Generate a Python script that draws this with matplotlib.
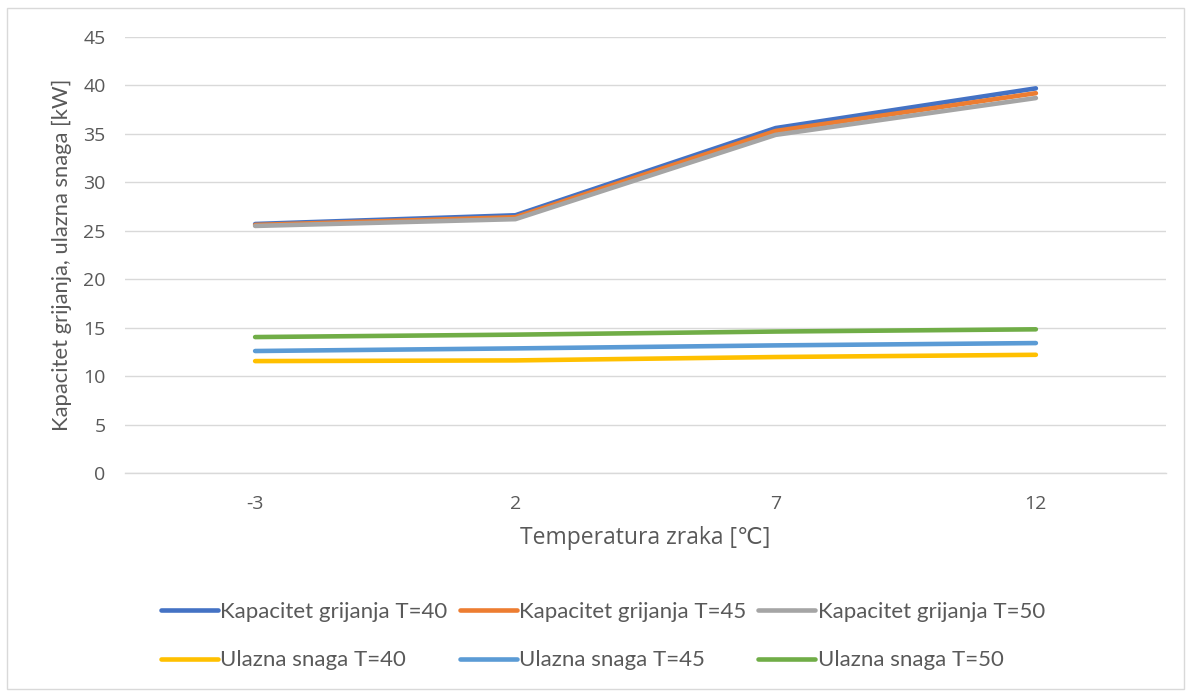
import matplotlib
matplotlib.use("Agg")
import matplotlib.pyplot as plt
from matplotlib.patches import Rectangle

plt.rcParams['font.family'] = ['Lato', 'DejaVu Sans']
SEGOE = ['Open Sans', 'DejaVu Sans']

categories = ["-3", "2", "7", "12"]
kap_40 = [25.7, 26.6, 35.6, 39.7]
kap_45 = [25.6, 26.4, 35.3, 39.2]
kap_50 = [25.5, 26.2, 34.9, 38.7]
ul_40 = [11.55, 11.62, 11.97, 12.2]
ul_45 = [12.59, 12.86, 13.17, 13.41]
ul_50 = [14.03, 14.28, 14.6, 14.83]

series = [
    ("Kapacitet grijanja T=40", kap_40, "#4472C4"),
    ("Kapacitet grijanja T=45", kap_45, "#ED7D31"),
    ("Kapacitet grijanja T=50", kap_50, "#A5A5A5"),
    ("Ulazna snaga T=40", ul_40, "#FFC000"),
    ("Ulazna snaga T=45", ul_45, "#5B9BD5"),
    ("Ulazna snaga T=50", ul_50, "#70AD47"),
]

W, H = 1191, 691
fig = plt.figure(figsize=(W / 100, H / 100), dpi=100)
ax = fig.add_axes([125 / W, 1 - 473 / H, (1166 - 125) / W, (473 - 37) / H])

xs = [i + 0.5 for i in range(len(categories))]
handles = []
for name, vals, col in series:
    h, = ax.plot(xs, vals, color=col, lw=3.3, solid_capstyle='round',
                 solid_joinstyle='round', label=name)
    handles.append(h)

ax.set_xlim(0, 4)
ax.set_ylim(0, 45)
ax.set_yticks(range(0, 46, 5))
ax.set_xticks(xs)
ax.set_xticklabels(categories)
ax.grid(axis='y', color='#D9D9D9', lw=1)
ax.set_axisbelow(True)
for s in ['top', 'right', 'left']:
    ax.spines[s].set_visible(False)
ax.spines['bottom'].set_color('#D9D9D9')
ax.spines['bottom'].set_linewidth(1)
ax.tick_params(axis='both', length=0, labelsize=14, labelcolor='#595959')
ax.tick_params(axis='y', pad=14)
ax.tick_params(axis='x', pad=16)
for lab in ax.get_xticklabels() + ax.get_yticklabels():
    lab.set_family(SEGOE)

ax.set_xlabel("Temperatura zraka [℃]", fontsize=16.5, color='#595959',
              labelpad=9, family=SEGOE)
ax.set_ylabel("Kapacitet grijanja, ulazna snaga [kW]", fontsize=15.8,
              color='#595959', labelpad=8)

order = [0, 3, 1, 4, 2, 5]
fig.legend(handles=[handles[i] for i in order], loc='center',
           bbox_to_anchor=(603 / W, 1 - 636 / H),
           ncol=3, frameon=False, fontsize=16, labelcolor='#595959',
           handlelength=2.56, handletextpad=0.1, columnspacing=0.55,
           labelspacing=1.3)

fig.add_artist(Rectangle((7 / W, 2 / H), (W - 14) / W, (H - 10) / H,
                         transform=fig.transFigure, fill=False,
                         edgecolor='#D9D9D9', lw=1))

fig.savefig("out.png", dpi=100)
